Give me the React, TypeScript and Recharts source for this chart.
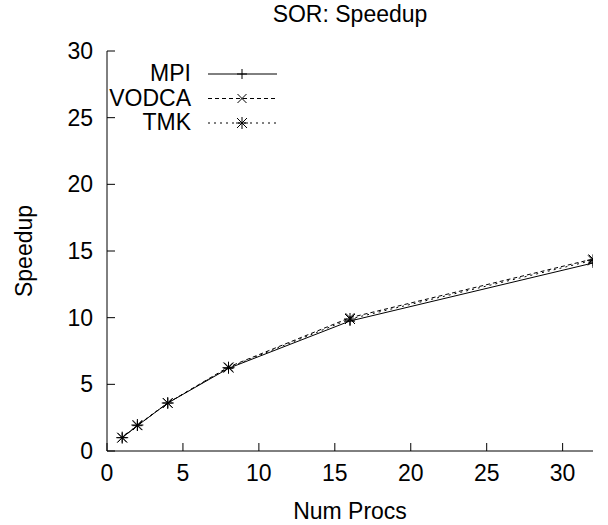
import React from "react";
import {
  LineChart,
  Line,
  XAxis,
  YAxis,
  Customized,
} from "recharts";

const procs = [1, 2, 4, 8, 16, 32];
const mpiSpeedup = [1, 1.9, 3.6, 6.2, 9.75, 14.1];
const vodcaSpeedup = [1, 1.9, 3.6, 6.3, 10.0, 14.4];
const tmkSpeedup = [1, 1.95, 3.6, 6.25, 9.9, 14.3];

const xTicks = [0, 5, 10, 15, 20, 25, 30];
const yTicks = [0, 5, 10, 15, 20, 25, 30];

const seriesNames = ["MPI", "VODCA", "TMK"];

const data = procs.map((p, i) => ({
  procs: p,
  mpi: mpiSpeedup[i],
  vodca: vodcaSpeedup[i],
  tmk: tmkSpeedup[i],
}));

const FONT = '"Liberation Sans", Arial, Helvetica, sans-serif';
const FS = 23;
const INK = "#000";

type Shape = "plus" | "cross" | "star";

function Marker({ x, y, shape }: { x: number; y: number; shape: Shape }) {
  const p = shape === "star" ? 6 : 5;
  const c = shape === "star" ? 5 : 4.5;
  return (
    <g stroke={INK} strokeWidth={1} fill="none">
      {shape !== "cross" && (
        <>
          <line x1={x - p} y1={y} x2={x + p} y2={y} />
          <line x1={x} y1={y - p} x2={x} y2={y + p} />
        </>
      )}
      {shape !== "plus" && (
        <>
          <line x1={x - c} y1={y - c} x2={x + c} y2={y + c} />
          <line x1={x - c} y1={y + c} x2={x + c} y2={y - c} />
        </>
      )}
    </g>
  );
}

const styles: { key: string; shape: Shape; dash?: string }[] = [
  { key: "mpi", shape: "plus" },
  { key: "vodca", shape: "cross", dash: "4 3" },
  { key: "tmk", shape: "star", dash: "2 4" },
];

const dotFor = (shape: Shape) => (props: any) => {
  const { cx, cy, index } = props;
  if (cx == null || cy == null) return <g key={`n-${shape}-${index}`} />;
  return <Marker key={`${shape}-${index}`} x={cx} y={cy} shape={shape} />;
};

function Decorations() {
  const lineY = [74, 98.5, 123];
  return (
    <g fontFamily={FONT} fontSize={FS} fill={INK}>
      <text x={350} y={22} textAnchor="middle">
        SOR: Speedup
      </text>
      {seriesNames.map((name, i) => (
        <g key={name}>
          <text x={191} y={lineY[i] + 7} textAnchor="end">
            {name}
          </text>
          <line
            x1={208}
            x2={277}
            y1={lineY[i]}
            y2={lineY[i]}
            stroke={INK}
            strokeWidth={1}
            strokeDasharray={styles[i].dash}
          />
          <Marker x={242} y={lineY[i]} shape={styles[i].shape} />
        </g>
      ))}
    </g>
  );
}

export default function App() {
  const tickStyle = { fill: INK, fontSize: FS, fontFamily: FONT };
  return (
    <div style={{ position: "absolute", left: 0, top: 0, background: "#fff" }}>
      <LineChart
        width={608}
        height={525}
        data={data}
        margin={{ top: 51, right: 15, left: 0, bottom: 0 }}
      >
        <XAxis
          dataKey="procs"
          type="number"
          domain={[0, 32]}
          ticks={xTicks}
          allowDataOverflow
          height={74}
          stroke={INK}
          tickSize={-8}
          tickMargin={22}
          tick={tickStyle}
          label={{
            value: "Num Procs",
            position: "insideBottom",
            offset: 6,
            fill: INK,
            fontSize: FS,
            fontFamily: FONT,
          }}
        />
        <XAxis
          xAxisId="top"
          orientation="top"
          type="number"
          domain={[0, 32]}
          ticks={xTicks}
          allowDataOverflow
          height={0}
          stroke={INK}
          tickSize={-8}
          tick={false}
        />
        <YAxis
          type="number"
          domain={[0, 30]}
          ticks={yTicks}
          allowDataOverflow
          width={107}
          stroke={INK}
          tickSize={-8}
          tickMargin={22}
          tick={tickStyle}
          label={{
            value: "Speedup",
            angle: -90,
            position: "insideLeft",
            offset: 24,
            fill: INK,
            fontSize: FS,
            fontFamily: FONT,
            style: { textAnchor: "middle" },
          }}
        />
        <YAxis
          yAxisId="right"
          orientation="right"
          type="number"
          domain={[0, 30]}
          ticks={yTicks}
          allowDataOverflow
          width={0}
          stroke={INK}
          tickSize={-8}
          tick={false}
        />
        {styles.map((s) => (
          <Line
            key={s.key}
            type="linear"
            dataKey={s.key}
            stroke={INK}
            strokeWidth={1}
            strokeDasharray={s.dash}
            dot={dotFor(s.shape)}
            activeDot={false}
            isAnimationActive={false}
          />
        ))}
        <Customized component={Decorations} />
      </LineChart>
    </div>
  );
}
